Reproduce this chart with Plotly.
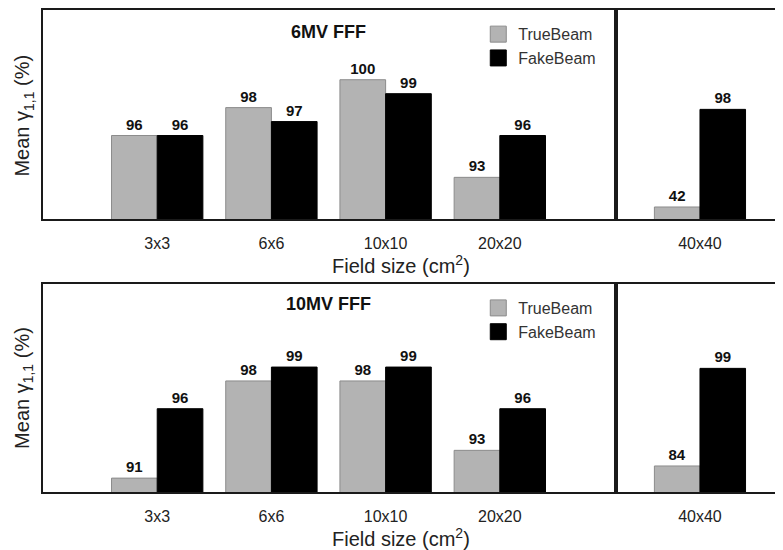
import plotly.graph_objects as go

categories_main = ["3x3", "6x6", "10x10", "20x20"]
categories_big = ["40x40"]

true_6mv_main = [96, 98, 100, 93]
fake_6mv_main = [96, 97, 99, 96]
true_6mv_big = [42]
fake_6mv_big = [98]

true_10mv_main = [91, 98, 98, 93]
fake_10mv_main = [96, 99, 99, 96]
true_10mv_big = [84]
fake_10mv_big = [99]

series_names = ["TrueBeam", "FakeBeam"]
panel_titles = ["6MV FFF", "10MV FFF"]

GRAY = "#b3b3b3"
GRAY_LINE = "#8c8c8c"
FONT = "Arial, Liberation Sans, sans-serif"

fig = go.Figure()


def add_bars(x, y, name, color, line, xa, ya):
    fig.add_trace(go.Bar(
        x=x, y=y, name=name, marker=dict(color=color, line=dict(color=line, width=1)),
        text=y, texttemplate="<b>%{y}</b>", textposition="outside",
        textfont=dict(size=15, color="#111", family=FONT),
        xaxis=xa, yaxis=ya, showlegend=False,
    ))


def add_legend_key(name, color, line, xa, ya, legend):
    fig.add_trace(go.Scatter(
        x=[None], y=[None], mode="markers", name=name,
        marker=dict(symbol="square", size=16, color=color, line=dict(color=line, width=1)),
        xaxis=xa, yaxis=ya, legend=legend, showlegend=True, hoverinfo="skip",
    ))


add_bars(categories_main, true_6mv_main, series_names[0], GRAY, GRAY_LINE, "x", "y")
add_bars(categories_main, fake_6mv_main, series_names[1], "black", "black", "x", "y")
add_bars(categories_big, true_6mv_big, series_names[0], GRAY, GRAY_LINE, "x2", "y2")
add_bars(categories_big, fake_6mv_big, series_names[1], "black", "black", "x2", "y2")

add_bars(categories_main, true_10mv_main, series_names[0], GRAY, GRAY_LINE, "x3", "y3")
add_bars(categories_main, fake_10mv_main, series_names[1], "black", "black", "x3", "y3")
add_bars(categories_big, true_10mv_big, series_names[0], GRAY, GRAY_LINE, "x4", "y4")
add_bars(categories_big, fake_10mv_big, series_names[1], "black", "black", "x4", "y4")

add_legend_key(series_names[0], GRAY, GRAY_LINE, "x", "y", "legend")
add_legend_key(series_names[1], "black", "black", "x", "y", "legend")
add_legend_key(series_names[0], GRAY, GRAY_LINE, "x3", "y3", "legend2")
add_legend_key(series_names[1], "black", "black", "x3", "y3", "legend2")

top_dom = [0.566, 1.0]
bot_dom = [0.0, 0.432]
main_dom = [0.0, 0.7727]
big_dom = [0.778, 1.0]

xcommon = dict(showline=True, linewidth=2, linecolor="#1a1a1a", mirror=True, ticks="",
               showgrid=False, zeroline=False, tickfont=dict(size=16, color="#222", family=FONT),
               ticklabelstandoff=9, fixedrange=True)
ycommon = dict(showline=True, linewidth=2, linecolor="#1a1a1a", mirror=True, ticks="",
               showticklabels=False, showgrid=False, zeroline=False, fixedrange=True)

legend_common = dict(xanchor="left", yanchor="top", bgcolor="rgba(0,0,0,0)",
                     font=dict(size=16, color="#333", family=FONT), tracegroupgap=0)

fig.update_layout(
    width=783, height=550,
    margin=dict(l=35, r=9, t=0, b=66),
    paper_bgcolor="white", plot_bgcolor="white",
    barmode="group", bargap=0.2, bargroupgap=0,
    font=dict(family=FONT, color="#222"),
    xaxis=dict(domain=main_dom, anchor="y", range=[-1, 4], **xcommon),
    yaxis=dict(domain=top_dom, anchor="x", range=[90, 105], **ycommon),
    xaxis2=dict(domain=big_dom, anchor="y2", range=[-0.72, 0.72], **xcommon),
    yaxis2=dict(domain=top_dom, anchor="x2", range=[35, 155], **ycommon),
    xaxis3=dict(domain=main_dom, anchor="y3", range=[-1, 4], **xcommon),
    yaxis3=dict(domain=bot_dom, anchor="x3", range=[90, 105], **ycommon),
    xaxis4=dict(domain=big_dom, anchor="y4", range=[-0.72, 0.72], **xcommon),
    yaxis4=dict(domain=bot_dom, anchor="x4", range=[80, 112], **ycommon),
    legend=dict(x=0.589, y=0.985, **legend_common),
    legend2=dict(x=0.589, y=0.417, **legend_common),
)

annotations = [
    dict(text="<b>" + panel_titles[0] + "</b>", xref="x domain", yref="paper", x=0.5, y=0.955,
         xanchor="center", yanchor="middle", showarrow=False,
         font=dict(size=18, color="#111", family=FONT)),
    dict(text="<b>" + panel_titles[1] + "</b>", xref="x3 domain", yref="paper", x=0.5, y=0.390,
         xanchor="center", yanchor="middle", showarrow=False,
         font=dict(size=18, color="#111", family=FONT)),
    dict(text="Field size (cm<sup>2</sup>)", xref="paper", yref="paper", x=0.484, y=0.471,
         xanchor="center", yanchor="middle", showarrow=False,
         font=dict(size=20, color="#222", family=FONT)),
    dict(text="Field size (cm<sup>2</sup>)", xref="paper", yref="paper", x=0.484, y=-0.095,
         xanchor="center", yanchor="middle", showarrow=False,
         font=dict(size=20, color="#222", family=FONT)),
    dict(text="Mean γ<sub>1,1</sub> (%)", xref="paper", yref="paper", x=-0.0257, y=0.781,
         xanchor="center", yanchor="middle", textangle=-90, showarrow=False,
         font=dict(size=20, color="#222", family=FONT)),
    dict(text="Mean γ<sub>1,1</sub> (%)", xref="paper", yref="paper", x=-0.0257, y=0.216,
         xanchor="center", yanchor="middle", textangle=-90, showarrow=False,
         font=dict(size=20, color="#222", family=FONT)),
]
fig.update_layout(annotations=annotations)

fig.write_html("out.html")
